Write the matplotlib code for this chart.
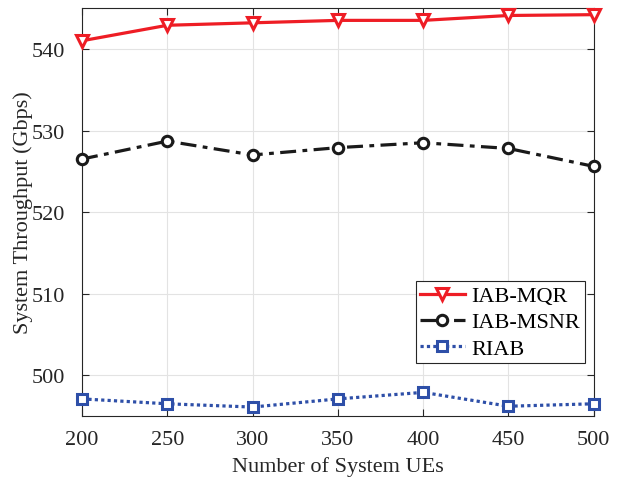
import numpy as np
import matplotlib
matplotlib.use('Agg')
import matplotlib.pyplot as plt

plt.rc('font', **{'family': 'serif', 'serif': ['Liberation Serif', 'DejaVu Serif'], 'size': 15})
plt.rcParams['mathtext.fontset'] = 'stix'

# Throughput vs. number of UEs
num_ues = [200, 250, 300, 350, 400, 450, 500]
iab_mqr = [541.0, 542.9, 543.2, 543.5, 543.5, 544.1, 544.2]
iab_msnr = [526.5, 528.7, 527.0, 527.9, 528.5, 527.8, 525.6]
riab = [497.1, 496.5, 496.1, 497.1, 497.9, 496.2, 496.5]

y_ticks = [500, 510, 520, 530, 540]

fig = plt.figure(figsize=(6.31, 4.81), dpi=100)
ax = fig.add_axes([0.130, 0.133, 0.811, 0.848])

ax.plot(num_ues, iab_mqr, color='#EE1D25', linestyle='-', linewidth=2.3,
        marker='v', markersize=9, markerfacecolor='white', markeredgewidth=2.2,
        label='IAB-MQR', clip_on=False, zorder=5)
ax.plot(num_ues, iab_msnr, color='#1A1A1A', linestyle=(0, (5, 2, 1.5, 2)), linewidth=2.3,
        marker='o', markersize=7.5, markerfacecolor='white', markeredgewidth=2.2,
        label='IAB-MSNR', clip_on=False, zorder=5)
ax.plot(num_ues, riab, color='#2E4FA8', linestyle=(0, (1, 1)), linewidth=2.3,
        marker='s', markersize=6.5, markerfacecolor='white', markeredgewidth=2.2,
        label='RIAB', clip_on=False, zorder=5)

ax.set_xlim(200, 500)
ax.set_ylim(495, 545)
ax.set_xticks(num_ues)
ax.set_yticks(y_ticks)
ax.grid(True, color='#E3E3E3', linewidth=0.8)
ax.set_axisbelow(True)

for s in ax.spines.values():
    s.set_color('#262626')
    s.set_linewidth(0.8)
ax.tick_params(direction='in', top=True, right=True, length=5, width=0.8,
               colors='#262626', labelcolor='#262626', labelsize=16)
ax.tick_params(axis='x', pad=10)
ax.tick_params(axis='y', pad=12)

ax.set_xlabel('Number of System UEs', fontsize=16, color='#262626', labelpad=5)
ax.set_ylabel('System Throughput (Gbps)', fontsize=16, color='#262626', labelpad=-1)

leg = ax.legend(loc='lower right', bbox_to_anchor=(0.982, 0.13), fontsize=16,
                fancybox=False, framealpha=1, edgecolor='#262626',
                handlelength=2.0, handletextpad=0.3, borderpad=0.2, labelspacing=0.25,
                borderaxespad=0.0)
leg.get_frame().set_linewidth(0.8)

fig.savefig('out.png', dpi=100)
